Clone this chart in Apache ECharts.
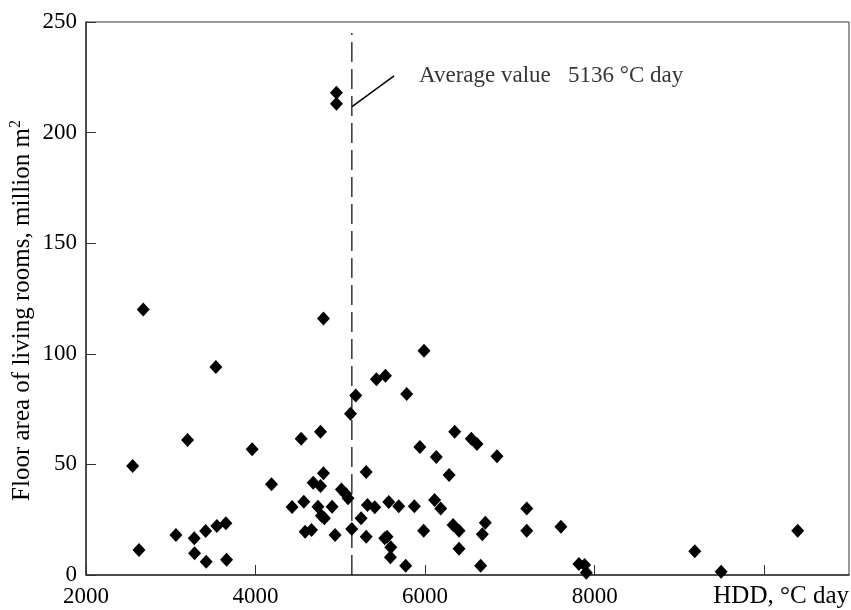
<!DOCTYPE html>
<html>
<head>
<meta charset="utf-8">
<script src="https://cdn.jsdelivr.net/npm/echarts@6/dist/echarts.min.js"></script>
<style>html,body{margin:0;padding:0;background:#fff}#c{width:851px;height:610px}</style>
</head>
<body>
<div id="c"></div>
<script>
// HDD (°C day) of each region
var hdd = [2550,2625,2675,3061,3198,3277,3281,3411,3418,3532,3544,3650,3658,3960,4188,4431,4538,4569,4585,4660,4680,4736,4766,4766,4777,4801,4801,4812,4903,4938,4954,4954,5013,5064,5091,5120,5135,5182,5245,5305,5305,5320,5406,5426,5532,5524,5551,5571,5595,5591,5689,5771,5783,5873,5938,5983,5987,6112,6132,6184,6283,6330,6349,6400,6400,6545,6612,6655,6675,6710,6848,7199,7199,7602,7814,7881,7901,9181,9492,10395];
// Floor area of living rooms (million m2)
var area = [49.3,11.3,120,18.1,61,16.6,9.8,19.9,6.0,94,22.2,23.4,6.9,56.8,41,30.7,61.6,33.1,19.6,20.3,41.7,30.9,64.8,40.2,26.8,46,116,25.6,30.9,18.1,218,213,38.7,36.6,34.7,72.9,20.8,81.2,25.6,46.6,17.3,31.6,30.6,88.5,90.1,16.6,17.3,33,12.5,8.0,31.1,4.2,81.8,31.1,57.9,20.0,101.4,33.9,53.3,30.1,45.2,22.6,64.8,20.0,11.9,61.6,59.2,4.2,18.4,23.6,53.7,30.1,20.0,21.8,5.0,4.5,1.0,10.7,1.5,20.0];
var avgValue = 5136;
var avgLineTop = 245;
var leaderStart = [5138, 211.7];
var leaderEnd = [5634, 225.6];
var avgText = 'Average value   5136 °C day';
var xShownTicks = [2000, 4000, 6000, 8000];

var font = '"Liberation Serif","Times New Roman",serif';
var pts = hdd.map(function(x, i){ return [x, area[i]]; });

var chart = echarts.init(document.getElementById('c'), null, {renderer:'canvas'});
chart.setOption({
  animation: false,
  backgroundColor: '#fff',
  grid: {left: 86, right: 2, top: 22, bottom: 35, show: true, borderColor: '#333', borderWidth: 1,
    outerBoundsMode: 'none', containLabel: false},
  xAxis: {
    type: 'value', min: 2000, max: 11000, interval: 2000,
    name: 'HDD, °C day', nameLocation: 'end', nameGap: 0, nameMoveOverlap: false,
    nameTextStyle: {fontFamily: font, fontSize: 25, color: '#000', align: 'right', verticalAlign: 'top', padding: [9, 0, 0, 0]},
    axisLine: {lineStyle: {color: '#333', width: 1.5}},
    axisTick: {inside: true, length: 10, lineStyle: {color: '#333'}},
    axisLabel: {fontFamily: font, fontSize: 23, color: '#000', margin: 10, showMaxLabel: false,
      formatter: function(v){ return xShownTicks.indexOf(v) >= 0 ? String(v) : ''; }},
    splitLine: {show: false}
  },
  yAxis: {
    type: 'value', min: 0, max: 250, interval: 50,
    name: '{a|Floor area of living rooms, million m}{s|2}', nameLocation: 'middle', nameGap: 50, nameMoveOverlap: false,
    nameTextStyle: {fontFamily: font, fontSize: 25, color: '#000', padding: [0, 24, 0, 0],
      rich: {a: {fontFamily: font, fontSize: 25, color: '#000'}, s: {fontFamily: font, fontSize: 16, color: '#000', padding: [0, 0, 12, 0]}}},
    axisLine: {show: true, lineStyle: {color: '#333', width: 1.5}},
    axisTick: {show: true, inside: true, length: 10, lineStyle: {color: '#333'}},
    axisLabel: {fontFamily: font, fontSize: 23, color: '#000', margin: 9},
    splitLine: {show: false}
  },
  series: [
    {
      type: 'scatter', data: pts, symbol: 'diamond', symbolSize: [13, 14],
      itemStyle: {color: '#000', opacity: 1}, z: 5
    },
    {
      type: 'line', data: [[avgValue, 0], [avgValue, avgLineTop]], symbol: 'none',
      lineStyle: {color: '#000', width: 1.2, type: [20, 7]}, z: 3
    },
    {
      type: 'line', data: [leaderStart, leaderEnd],
      symbol: 'none',
      lineStyle: {color: '#000', width: 1.5}, z: 4
    },
    {
      type: 'scatter', data: [leaderEnd], symbolSize: 2, itemStyle: {color: 'rgba(0,0,0,0)'},
      label: {show: true, position: 'right', distance: 24, formatter: avgText,
        fontFamily: font, fontSize: 23, color: '#000'}, z: 6
    }
  ]
});
</script>
</body>
</html>
